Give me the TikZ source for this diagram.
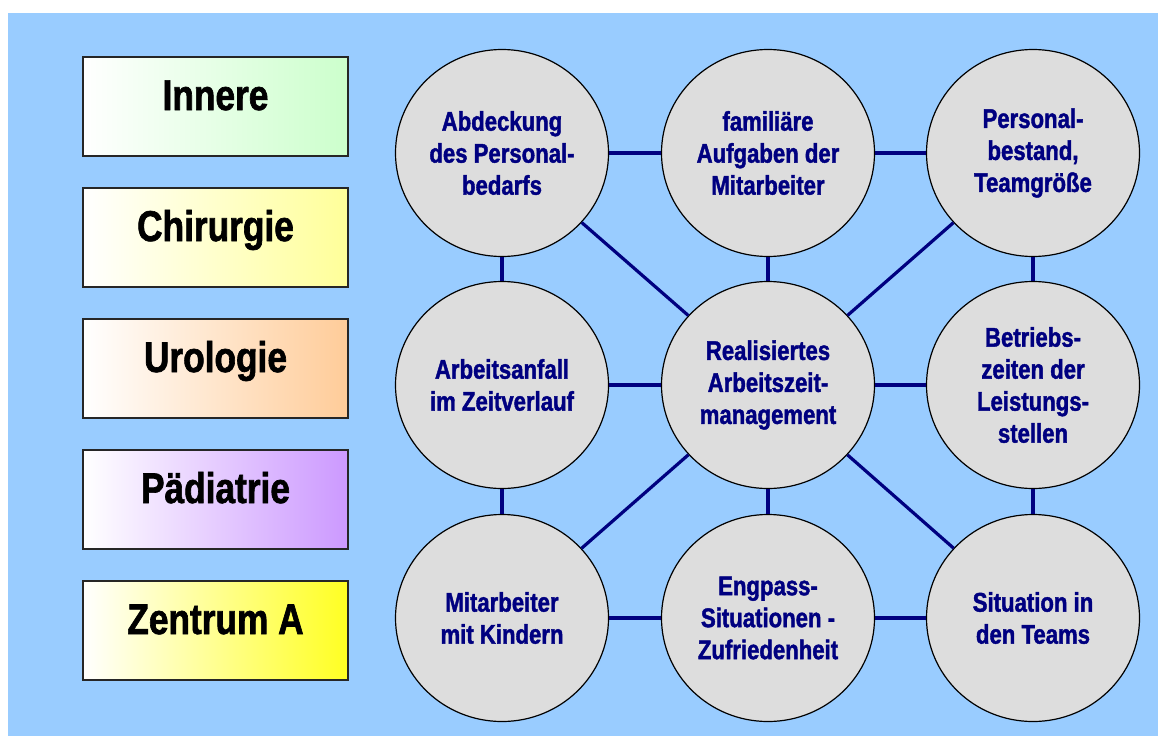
\documentclass[tikz,border=0pt]{standalone}
\usepackage{fontspec}
\usetikzlibrary{shapes.geometric}
\newfontfamily\narrowsans{Liberation Sans}[FakeStretch=0.82,BoldFeatures={FakeBold=1.5}]
\definecolor{bgblue}{HTML}{99CCFF}
\definecolor{linkblue}{HTML}{000080}
\definecolor{ringgray}{HTML}{DDDDDD}
\begin{document}
\begin{tikzpicture}[x=1pt,y=-1pt,
    dept/.style={draw=black!85,line width=1.3pt,minimum width=265pt,minimum height=99pt,
      inner sep=0pt,left color=white,text height=31pt,text depth=24pt,
      font=\narrowsans\bfseries\fontsize{43}{43}\selectfont},
    topic/.style={ellipse,draw=black,line width=1.2pt,fill=ringgray,minimum width=213pt,
      minimum height=207pt,inner sep=0pt,align=center,text=linkblue,
      font=\narrowsans\bfseries\fontsize{27}{32}\selectfont},
    link/.style={draw=linkblue,line width=3.2pt}]
    \useasboundingbox (0,0) rectangle (1158,736);
    \fill[bgblue] (8,13) rectangle (1158,736);
    \foreach \name/\tone [count=\i] in {Innere/CCFFCC,Chirurgie/FFFF99,Urologie/FFCC99,
        P\"adiatrie/CC99FF,Zentrum A/FFFF22} {
      \definecolor{tone}{HTML}{\tone}
      \node[dept,right color=tone] (dept\i) at (215.5,106.5+131*\i-131) {\name};
    }
    \node[topic] (bedarf)   at (502,153)  {Abdeckung\\des Personal-\\bedarfs};
    \node[topic] (aufgaben) at (768,153)  {familiäre\\Aufgaben der\\Mitarbeiter};
    \node[topic] (bestand)  at (1033,153) {Personal-\\bestand,\\Teamgröße};
    \node[topic] (anfall)   at (502,385)  {Arbeitsanfall\\im Zeitverlauf};
    \node[topic] (azm)      at (768,385)  {Realisiertes\\Arbeitszeit-\\management};
    \node[topic] (betrieb)  at (1033,385) {Betriebs-\\zeiten der\\Leistungs-\\stellen};
    \node[topic] (kinder)   at (502,618)  {Mitarbeiter\\mit Kindern};
    \node[topic] (engpass)  at (768,618)  {Engpass-\\Situationen -\\Zufriedenheit};
    \node[topic] (teams)    at (1033,618) {Situation in\\den Teams};
    \foreach \a/\b in {bedarf/aufgaben,aufgaben/bestand,anfall/azm,azm/betrieb,
        kinder/engpass,engpass/teams,bedarf/anfall,anfall/kinder,aufgaben/azm,
        azm/engpass,bestand/betrieb,betrieb/teams,azm/bedarf,azm/bestand,
        azm/kinder,azm/teams}
      \draw[link] (\a) -- (\b);
  \end{tikzpicture}
\end{document}
